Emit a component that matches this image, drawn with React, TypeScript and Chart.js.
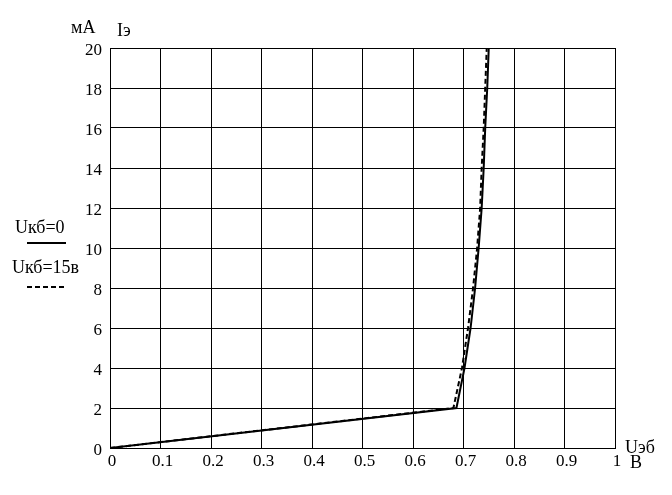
import React, { useEffect, useRef } from "react";
import { Chart, registerables } from "chart.js";

Chart.register(...registerables);

// Emitter current levels, mA
const iLevels = [0, 2, 4, 6, 8, 10, 12, 14, 16, 18, 20];
// Uэб (V) at Uкб = 0 (solid)
const uSolid = [0, 0.686, 0.702, 0.714, 0.723, 0.73, 0.736, 0.74, 0.743, 0.747, 0.75];
// Uэб (V) at Uкб = 15 В (dashed)
const uDashed = [0, 0.68, 0.697, 0.709, 0.719, 0.727, 0.733, 0.736, 0.74, 0.743, 0.746];

const xTickLabels = ["0", "0.1", "0.2", "0.3", "0.4", "0.5", "0.6", "0.7", "0.8", "0.9", "1"];
const yTickLabels = ["0", "2", "4", "6", "8", "10", "12", "14", "16", "18", "20"];

const FONT = "'Liberation Serif', 'Times New Roman', serif";

const textPlugin = {
  id: "extraText",
  afterDraw(chart: any) {
    const ctx = chart.ctx as CanvasRenderingContext2D;
    ctx.save();
    ctx.fillStyle = "#000";
    ctx.textAlign = "left";
    ctx.textBaseline = "alphabetic";
    ctx.font = `18px ${FONT}`;
    ctx.fillText("мА", 71, 33);
    ctx.fillText("Iэ", 117, 36);
    ctx.fillText("Uэб", 625, 453);
    ctx.fillText("В", 630, 468);
    ctx.fillText("Uкб=0", 15, 233);
    ctx.fillText("Uкб=15в", 12, 273);
    ctx.strokeStyle = "#000";
    ctx.lineWidth = 2;
    ctx.beginPath();
    ctx.moveTo(27, 243);
    ctx.lineTo(66, 243);
    ctx.stroke();
    ctx.setLineDash([5, 3]);
    ctx.beginPath();
    ctx.moveTo(27, 287);
    ctx.lineTo(64, 287);
    ctx.stroke();
    ctx.restore();
  },
};

export default function App() {
  const ref = useRef<HTMLCanvasElement>(null);
  useEffect(() => {
    if (!ref.current) return;
    const tickFont = { family: FONT, size: 17 };
    const chart = new Chart(ref.current, {
      type: "line",
      data: {
        datasets: [
          {
            label: "Uкб=0",
            data: iLevels.map((y, i) => ({ x: uSolid[i], y })),
            borderColor: "#000",
            borderWidth: 2,
            pointRadius: 0,
            tension: 0,
            fill: false,
          },
          {
            label: "Uкб=15в",
            data: iLevels.map((y, i) => ({ x: uDashed[i], y })),
            borderColor: "#000",
            borderWidth: 2,
            borderDash: [5, 3],
            pointRadius: 0,
            tension: 0,
            fill: false,
          },
        ],
      },
      options: {
        animation: false,
        responsive: false,
        maintainAspectRatio: false,
        layout: { padding: { left: 0, top: 48, right: 57, bottom: 0 } },
        plugins: { legend: { display: false }, tooltip: { enabled: false } },
        scales: {
          x: {
            type: "linear",
            min: 0,
            max: 1,
            afterFit: (s: any) => {
              s.height = 47;
            },
            ticks: {
              stepSize: 0.1,
              padding: 3,
              labelOffset: 2,
              maxRotation: 0,
              autoSkip: false,
              color: "#000",
              font: tickFont,
              callback: (_v: any, i: number) => xTickLabels[i],
            },
            grid: { color: "#000", lineWidth: 1, drawTicks: false },
            border: { display: true, color: "#000", width: 1 },
          },
          y: {
            type: "linear",
            min: 0,
            max: 20,
            afterFit: (s: any) => {
              s.width = 110;
            },
            ticks: {
              stepSize: 2,
              padding: 8,
              labelOffset: 3,
              autoSkip: false,
              color: "#000",
              font: tickFont,
              callback: (_v: any, i: number) => yTickLabels[i],
            },
            grid: { color: "#000", lineWidth: 1, drawTicks: false },
            border: { display: true, color: "#000", width: 1 },
          },
        },
      },
      plugins: [textPlugin],
    });
    return () => chart.destroy();
  }, []);
  return (
    <div style={{ position: "absolute", left: 0, top: 0, width: 672, height: 495, background: "#fff" }}>
      <canvas ref={ref} width={672} height={495} style={{ display: "block" }} />
    </div>
  );
}
